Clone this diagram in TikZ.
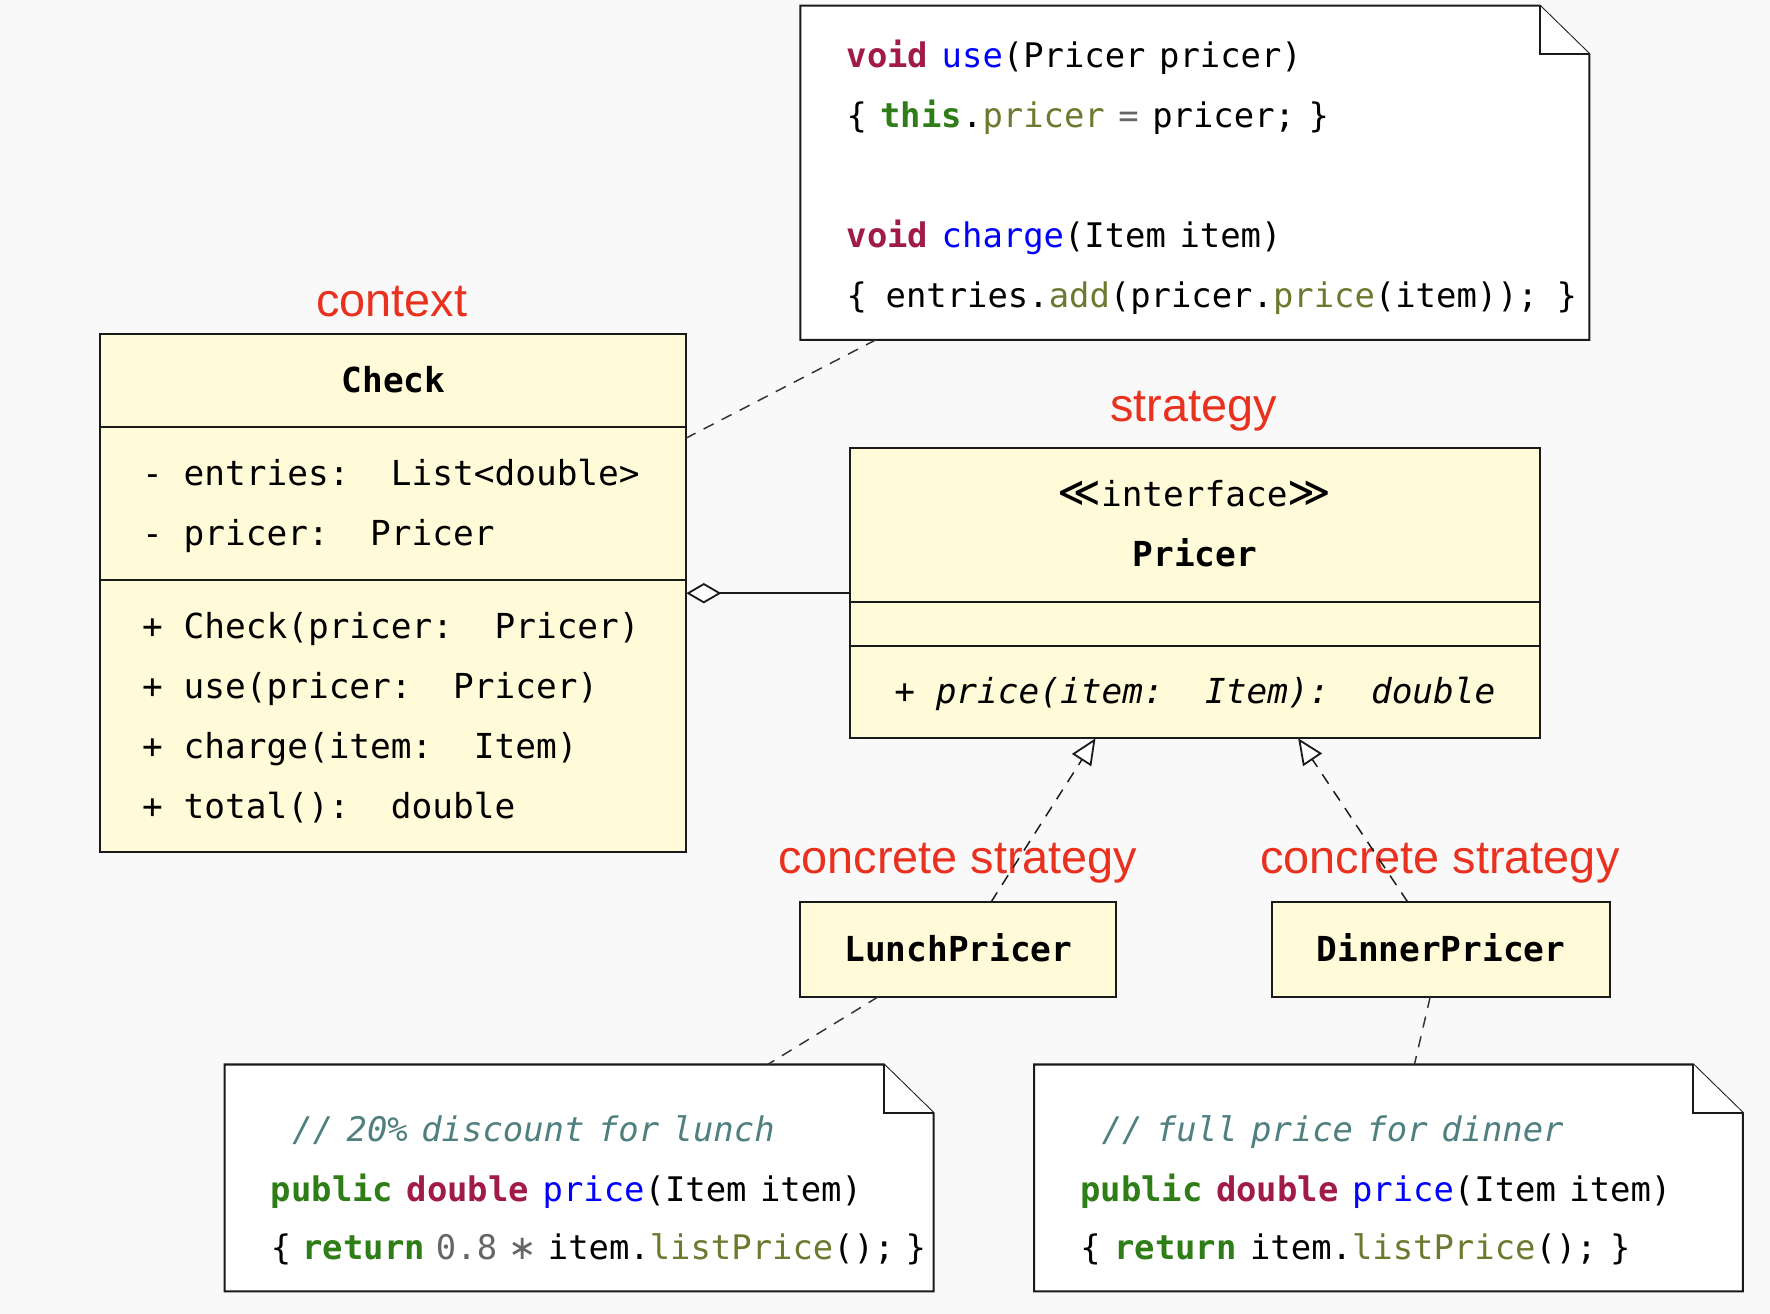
\documentclass[tikz,border=0pt]{standalone}
\usepackage{fontspec}
\setmainfont{DejaVu Sans Mono}
\newfontfamily\mono[BoldFont={DejaVu Sans Mono Bold},ItalicFont={DejaVu Sans Mono Oblique},BoldItalicFont={DejaVu Sans Mono Bold Oblique}]{DejaVu Sans Mono}
\newfontfamily\labfont{Liberation Sans}
\newfontfamily\symfont{DejaVu Sans}
\usetikzlibrary{arrows.meta}
\definecolor{bgc}{HTML}{F9F9F9}
\definecolor{classfill}{HTML}{FFFAD7}
\definecolor{linec}{HTML}{1A1A1A}
\definecolor{linkc}{HTML}{333333}
\definecolor{labred}{HTML}{E8311F}
\definecolor{ckw}{HTML}{A01A4A}
\definecolor{cfn}{HTML}{0000FF}
\definecolor{cgr}{HTML}{2E7D16}
\definecolor{col}{HTML}{6B7A2F}
\definecolor{ccm}{HTML}{4F7F7F}
\definecolor{cnum}{HTML}{666666}
\newcommand{\csp}{\hspace{0.4em}}
\newcommand{\nsp}{\hspace{0.33em}}
\newcommand{\tkw}[1]{{\bfseries\color{ckw}#1}}
\newcommand{\tfn}[1]{{\color{cfn}#1}}
\newcommand{\tgr}[1]{{\bfseries\color{cgr}#1}}
\newcommand{\tol}[1]{{\color{col}#1}}
\newcommand{\tnum}[1]{{\color{cnum}#1}}
\begin{document}
\begin{tikzpicture}[x=1pt,y=-1pt,
  every node/.style={inner sep=0pt, outer sep=0pt},
  cls/.style={draw=linec, line width=1.8pt, fill=classfill, rectangle, anchor=north west},
  divider/.style={draw=linec, line width=1.8pt},
  noteshape/.style={draw=linec, line width=1.8pt, fill=white, line join=miter},
  notearea/.style={rectangle, anchor=north west},
  txt/.style={anchor=base west, font=\mono\fontsize{30}{36}\selectfont},
  ctxt/.style={anchor=base, font=\mono\fontsize{30.5}{36}\selectfont},
  clstxt/.style={anchor=base west, font=\mono\fontsize{30.5}{36}\selectfont},
  cmt/.style={anchor=base west, text=ccm, font=\mono\itshape\fontsize{30}{36}\selectfont},
  lab/.style={anchor=base, text=labred, font=\labfont\fontsize{41.5}{50}\selectfont},
  notelink/.style={draw=linkc, line width=1.3pt, dash pattern=on 10pt off 8pt},
  realize/.style={draw=linec, line width=1.3pt, dash pattern=on 10pt off 8pt,
    -{Triangle[open, length=23pt, width=20pt, fill=white, line width=1.6pt]}},
  aggr/.style={draw=linec, line width=1.6pt,
    {Diamond[open, length=31pt, width=18pt, fill=white, line width=1.6pt]}-}
]
\useasboundingbox (0,0) rectangle (1568,1164);
\fill[bgc] (0,0) rectangle (1568,1164);

% ---------- notes ----------
\node[notearea, minimum width=699pt, minimum height=296pt] (note1) at (709,5) {};
\draw[noteshape] (note1.north west) -- ([xshift=-44pt]note1.north east) -- ([yshift=-43pt]note1.north east) -- (note1.south east) -- (note1.south west) -- cycle;
\draw[noteshape] ([xshift=-44pt]note1.north east) -- ([xshift=-44pt,yshift=-43pt]note1.north east) -- ([yshift=-43pt]note1.north east);

\node[notearea, minimum width=628pt, minimum height=201pt] (note2) at (199,943) {};
\draw[noteshape] (note2.north west) -- ([xshift=-44pt]note2.north east) -- ([yshift=-43pt]note2.north east) -- (note2.south east) -- (note2.south west) -- cycle;
\draw[noteshape] ([xshift=-44pt]note2.north east) -- ([xshift=-44pt,yshift=-43pt]note2.north east) -- ([yshift=-43pt]note2.north east);

\node[notearea, minimum width=628pt, minimum height=201pt] (note3) at (916,943) {};
\draw[noteshape] (note3.north west) -- ([xshift=-44pt]note3.north east) -- ([yshift=-43pt]note3.north east) -- (note3.south east) -- (note3.south west) -- cycle;
\draw[noteshape] ([xshift=-44pt]note3.north east) -- ([xshift=-44pt,yshift=-43pt]note3.north east) -- ([yshift=-43pt]note3.north east);

% note texts
\node[txt] (n1a) at (750,60) {\tkw{void}\csp\tfn{use}(Pricer\csp pricer)};
\node[txt] (n1b) at (750,113) {\{\csp\tgr{this}.\tol{pricer}\csp\tnum{=}\csp pricer;\csp\}};
\node[txt] (n1c) at (750,219) {\tkw{void}\csp\tfn{charge}(Item\csp item)};
\node[txt] (n1d) at (750,272) {\{\hspace{0.55em}entries.\tol{add}(pricer.\tol{price}(item));\hspace{0.55em}\}};

\node[cmt] (n2a) at (259,1011) {//\csp 20\%\csp discount\csp for\csp lunch};
\node[txt] (n2b) at (240,1064) {\tgr{public}\csp\tkw{double}\csp\tfn{price}(Item\csp item)};
\node[txt] (n2c) at (240,1116) {\{\nsp\tgr{return}\nsp\tnum{0.8}\nsp\tnum{{\symfont ∗}}\nsp item.\tol{listPrice}();\nsp\}};

\node[cmt] (n3a) at (976,1011) {//\csp full\csp price\csp for\csp dinner};
\node[txt] (n3b) at (957,1064) {\tgr{public}\csp\tkw{double}\csp\tfn{price}(Item\csp item)};
\node[txt] (n3c) at (957,1116) {\{\csp\tgr{return}\csp item.\tol{listPrice}();\csp\}};

% ---------- classes ----------
\node[cls, minimum width=519pt, minimum height=459pt] (check) at (89,296) {};
\draw[divider] (check.west |- 0,378) -- (check.east |- 0,378);
\draw[divider] (check.west |- 0,514) -- (check.east |- 0,514);
\node[ctxt] (checkname) at (348.5,348) {\bfseries Check};
\node[clstxt] (a1) at (126,430) {-~entries:~~List<double>};
\node[clstxt] (a2) at (126,483) {-~pricer:~~Pricer};
\node[clstxt] (m1) at (126,566) {+~Check(pricer:~~Pricer)};
\node[clstxt] (m2) at (126,619) {+~use(pricer:~~Pricer)};
\node[clstxt] (m3) at (126,672) {+~charge(item:~~Item)};
\node[clstxt] (m4) at (126,725) {+~total():~~double};

\node[cls, minimum width=611pt, minimum height=257pt] (pricer) at (753,397) {};
\draw[divider] (pricer.west |- 0,533) -- (pricer.east |- 0,533);
\draw[divider] (pricer.west |- 0,572) -- (pricer.east |- 0,572);
\node[ctxt] (stereo) at (1058,449) {{\symfont\fontsize{37}{36}\selectfont ≪}interface{\symfont\fontsize{37}{36}\selectfont ≫}};
\node[ctxt] (pricername) at (1058.5,502) {\bfseries Pricer};
\node[ctxt] (pm) at (1058.5,623) {\itshape +~price(item:~~Item):~~double};

\node[cls, minimum width=280pt, minimum height=84pt] (lunch) at (709,799) {};
\node[ctxt] (lunchname) at (lunch.center |- 0,852) {\bfseries LunchPricer};
\node[cls, minimum width=299pt, minimum height=84pt] (dinner) at (1127,799) {};
\node[ctxt] (dinnername) at (dinner.center |- 0,852) {\bfseries DinnerPricer};

% ---------- labels ----------
\node[lab] (lctx) at (347,280) {context};
\node[lab] (lstr) at (1057.5,373) {strategy};
\node[lab] (lc1) at (848.5,774) {concrete strategy};
\node[lab] (lc2) at (1275.5,774) {concrete strategy};

% ---------- connectors ----------
\draw[notelink] (note1.south -| 776,0) -- (check.east |- 0,388);
\draw[notelink] (lunch.south -| 778,0) -- (note2.north -| 680,0);
\draw[notelink] (dinner.south -| 1267,0) -- (note3.north -| 1253,0);
\draw[aggr] (check.east) -- (pricer.west);
\draw[realize] (lunch.north -| 878,0) -- (pricer.south -| 970.5,0);
\draw[realize] (dinner.north -| 1247,0) -- (pricer.south -| 1150,0);
\end{tikzpicture}
\end{document}
